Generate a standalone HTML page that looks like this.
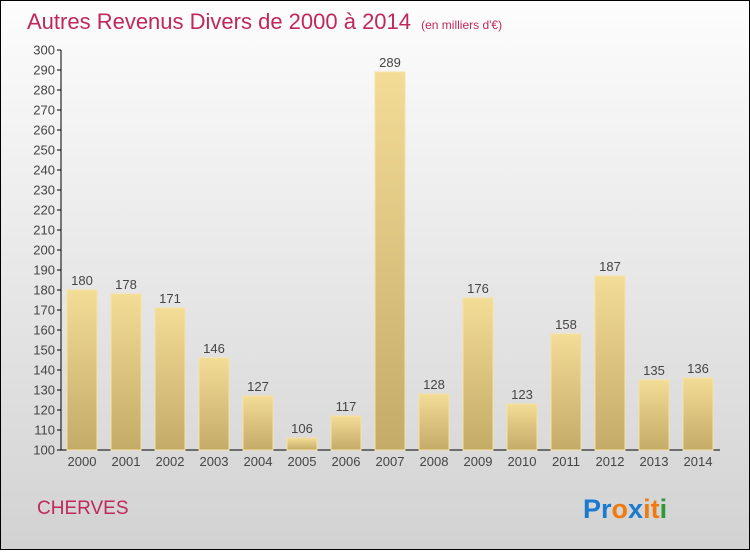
<!DOCTYPE html>
<html><head><meta charset="utf-8"><style>
html,body{margin:0;padding:0}
body{width:750px;height:550px;overflow:hidden;font-family:"Liberation Sans",sans-serif}
</style></head><body>
<svg id="c" width="750" height="550" xmlns="http://www.w3.org/2000/svg">
<defs>
<linearGradient id="bg" x1="0" y1="0" x2="0" y2="1"><stop offset="0" stop-color="#fdfdfd"/><stop offset="1" stop-color="#d2d2d2"/></linearGradient>
<linearGradient id="bar" x1="0" y1="0" x2="0" y2="1"><stop offset="0" stop-color="#f3dc96"/><stop offset="1" stop-color="#c4ab68"/></linearGradient>
</defs>
<rect x="0.5" y="0.5" width="749" height="549" fill="url(#bg)" stroke="#000"/>
<text x="27" y="29" font-size="22" fill="#c0285a">Autres Revenus Divers de 2000 à 2014 <tspan font-size="12" dx="4">(en milliers d'€)</tspan></text>
<g id="plot"></g>
<text x="37" y="514" font-size="19" fill="#c0285a">CHERVES</text>
<text x="583" y="518" font-size="27" font-weight="bold"><tspan fill="#1a7ad0">Pr</tspan><tspan fill="#f07a10">o</tspan><tspan fill="#1a7ad0">x</tspan><tspan fill="#f07a10">i</tspan><tspan fill="#f07a10">t</tspan><tspan fill="#2a9a3a">i</tspan></text>
</svg>
<script>
const categories=["2000","2001","2002","2003","2004","2005","2006","2007","2008","2009","2010","2011","2012","2013","2014"];
const values=[180,178,171,146,127,106,117,289,128,176,123,158,187,135,136];
const yTicks=[100,110,120,130,140,150,160,170,180,190,200,210,220,230,240,250,260,270,280,290,300];
const NS="http://www.w3.org/2000/svg";
const g=document.getElementById('plot');
const y=v=>450-(v-100)*2;
const x=i=>82+i*44;
function mk(t,a,txt){const e=document.createElementNS(NS,t);for(const k in a)e.setAttribute(k,a[k]);if(txt!==undefined)e.textContent=txt;g.appendChild(e);return e;}
let e=mk('line',{x1:61,y1:50,x2:61,y2:450,stroke:'#000'});


e=mk('line',{x1:61,y1:450,x2:720,y2:450,stroke:'#000'});


yTicks.forEach(t=>{
 e=mk('line',{x1:57,y1:y(t),x2:61,y2:y(t),stroke:'#000'});
 
 
 e=mk('text',{x:55,y:y(t)+4.5,'font-size':13,'text-anchor':'end',fill:'#444'},t);
 
 
});
categories.forEach((c,i)=>{
 const v=values[i];
 e=mk('rect',{x:x(i)-15,y:y(v),width:30,height:450-y(v),fill:'url(#bar)',stroke:'#f5e2a4','stroke-width':1});
 
 
 e=mk('text',{x:x(i),y:y(v)-5,'font-size':13,'text-anchor':'middle',fill:'#444'},v);
 
 
 e=mk('text',{x:x(i),y:466,'font-size':13,'text-anchor':'middle',fill:'#444'},c);
 
 
});
</script>
</body></html>
